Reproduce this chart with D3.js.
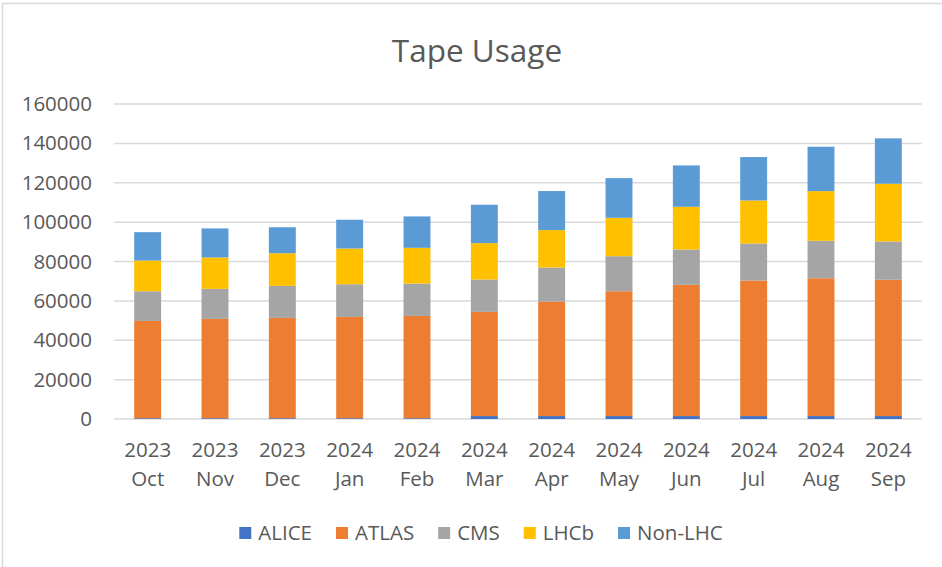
<!DOCTYPE html>
<html>
<head>
<meta charset="utf-8">
<script src="https://cdn.jsdelivr.net/npm/d3@7"></script>
<style>
  body { margin: 0; background: #fff; }
  svg { display: block; font-family: "Open Sans", "Noto Sans", sans-serif; }
</style>
</head>
<body>
<svg id="chart"></svg>
<script>
// data
var years  = ["2023","2023","2023","2024","2024","2024","2024","2024","2024","2024","2024","2024"];
var months = ["Oct","Nov","Dec","Jan","Feb","Mar","Apr","May","Jun","Jul","Aug","Sep"];
var series = ["ALICE", "ATLAS", "CMS", "LHCb", "Non-LHC"];
var alice  = [400, 400, 400, 400, 400, 1500, 1500, 1500, 1500, 1500, 1500, 1500];
var atlas  = [49400, 50450, 50950, 51450, 51950, 52900, 58150, 63400, 66650, 68850, 70000, 69200];
var cms    = [15100, 15250, 16250, 16600, 16450, 16450, 17300, 17800, 17950, 18800, 19000, 19500];
var lhcb   = [15600, 15950, 16600, 18150, 18150, 18500, 19000, 19500, 21700, 21850, 25250, 29300];
var nonlhc = [14400, 14750, 13200, 14600, 15950, 19500, 19850, 20150, 21000, 22050, 22550, 23050];
var yTicks = [0, 20000, 40000, 60000, 80000, 100000, 120000, 140000, 160000];
var colors = ["#4472C4", "#ED7D31", "#A5A5A5", "#FFC000", "#5B9BD5"];

var W = 942, H = 567;
var margin = {top: 104, left: 114, right: 20, bottom: 148};
var innerW = W - margin.left - margin.right;
var innerH = H - margin.top - margin.bottom;
var textColor = "#595959";
var fs = "20.5px";

var svg = d3.select("#chart").attr("width", W).attr("height", H);

// chart frame (right/bottom edges are cut off in the picture)
svg.append("rect")
  .attr("x", 2.5).attr("y", 3.5)
  .attr("width", 1200).attr("height", 1200)
  .attr("fill", "none").attr("stroke", "#d9d9d9").attr("stroke-width", 1.5);

var table = months.map(function(m, i) {
  return {key: i, ALICE: alice[i], ATLAS: atlas[i], CMS: cms[i], LHCb: lhcb[i], "Non-LHC": nonlhc[i]};
});
var stacked = d3.stack().keys(series)(table);

var x = d3.scaleBand()
  .domain(d3.range(months.length))
  .range([0, innerW])
  .paddingInner(0.6).paddingOuter(0.3);

var y = d3.scaleLinear()
  .domain([0, 160000])
  .range([innerH, 0]);

var color = d3.scaleOrdinal().domain(series).range(colors);

var g = svg.append("g")
  .attr("transform", "translate(" + margin.left + "," + margin.top + ")");

// gridlines
g.append("g")
  .selectAll("line")
  .data(yTicks)
  .join("line")
  .attr("x1", 0).attr("x2", innerW)
  .attr("y1", function(d) { return y(d); })
  .attr("y2", function(d) { return y(d); })
  .attr("stroke", "#d9d9d9").attr("stroke-width", 1.5);

// y axis labels
var yAxis = g.append("g")
  .attr("transform", "translate(-22,0)")
  .call(d3.axisLeft(y).tickValues(yTicks).tickSize(0).tickPadding(0).tickFormat(d3.format("d")));
yAxis.select(".domain").remove();
yAxis.selectAll("text")
  .attr("fill", textColor)
  .style("font-size", fs)
  .style("font-family", "'Open Sans', sans-serif");

// bars
g.append("g")
  .selectAll("g")
  .data(stacked)
  .join("g")
  .attr("fill", function(d) { return color(d.key); })
  .selectAll("rect")
  .data(function(d) { return d; })
  .join("rect")
  .attr("x", function(d) { return x(d.data.key); })
  .attr("width", x.bandwidth())
  .attr("y", function(d) { return y(d[1]); })
  .attr("height", function(d) { return y(d[0]) - y(d[1]); });

// x labels, two lines
var xl = g.append("g")
  .selectAll("text")
  .data(months)
  .join("text")
  .attr("text-anchor", "middle")
  .attr("fill", textColor)
  .style("font-size", fs)
  .attr("x", function(d, i) { return x(i) + x.bandwidth() / 2; })
  .attr("y", innerH + 38);
xl.append("tspan").text(function(d, i) { return years[i]; });
xl.append("tspan")
  .attr("x", function(d, i) { return x(i) + x.bandwidth() / 2; })
  .attr("dy", 29)
  .text(function(d) { return d; });

// title
svg.append("text")
  .attr("x", 477).attr("y", 62)
  .attr("text-anchor", "middle")
  .attr("fill", textColor)
  .style("font-size", "31.5px")
  .text("Tape Usage");

// legend
var legend = svg.append("g");
var pos = 0;
series.forEach(function(s, i) {
  var item = legend.append("g").attr("transform", "translate(" + pos + ",0)");
  item.append("rect")
    .attr("x", 0).attr("y", -6)
    .attr("width", 12).attr("height", 12)
    .attr("fill", colors[i]);
  var t = item.append("text")
    .attr("x", 19).attr("y", 7)
    .attr("fill", textColor)
    .style("font-size", fs)
    .text(s);
  pos += 19 + t.node().getComputedTextLength() + 24;
});
pos -= 24;
legend.attr("transform", "translate(" + (481 - pos / 2) + ",533)");
</script>
</body>
</html>
